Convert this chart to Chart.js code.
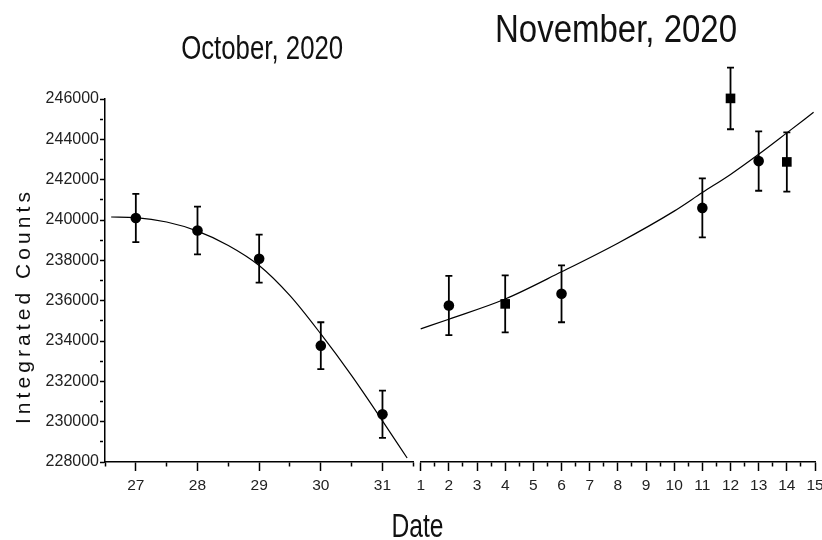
<!DOCTYPE html>
<html><head><meta charset="utf-8">
<script src="https://cdn.jsdelivr.net/npm/chart.js@4.4.0/dist/chart.umd.min.js"></script>
<style>
html,body{margin:0;padding:0;background:#fff;}
#wrap{position:relative;width:822px;height:540px;overflow:hidden;}
canvas{position:absolute;left:0;top:0;}
</style></head><body>
<div id="wrap"><canvas id="oct" width="822" height="540"></canvas><canvas id="nov" width="822" height="540"></canvas></div>
<script>
// ---- data ----
const octDays = [27, 28, 29, 30, 31];
const octCounts = [240100, 239480, 238080, 233770, 230370];
const octErrors = [1200, 1180, 1190, 1160, 1170];
const octFitDays = [26.6, 27, 27.5, 28, 28.5, 29, 29.5, 30, 30.5, 31, 31.4];
const octFitCounts = [240150, 240120, 239900, 239450, 238740, 237745, 236250, 234350, 232280, 230040, 228200];

const novDays = [2, 4, 6, 11, 12, 13, 14];
const novCounts = [235760, 235840, 236340, 240600, 246030, 242920, 242880];
const novErrors = [1470, 1410, 1410, 1460, 1530, 1470, 1470];
const novMarkers = ['circle', 'rect', 'circle', 'circle', 'rect', 'circle', 'rect'];
const novFitDays = [1, 2, 4, 6, 8, 10, 11, 12, 13, 14, 14.95];
const novFitCounts = [234600, 235080, 236080, 237430, 238850, 240440, 241360, 242260, 243260, 244320, 245340];

const yMin = 228000, yMax = 246000, yStep = 1000;
const octMin = 26.5, octMax = 31.5;
const novMin = 1, novMax = 15;

const octTitle = 'October, 2020';
const novTitle = 'November, 2020';
const xTitle = 'Date';
const yTitle = 'Integrated Counts';

// ---- helpers ----
const pts = (xs, ys) => xs.map((x, i) => ({x, y: ys[i]}));
const FONT = '"Liberation Sans", Arial, sans-serif';
const NARROW = '"Liberation Sans Narrow", "Liberation Sans", Arial, sans-serif';

function drawScaledText(ctx, text, cx, baseline, size, targetW) {
  ctx.save();
  ctx.font = size + 'px ' + NARROW;
  const w = ctx.measureText(text).width;
  ctx.translate(cx, baseline);
  ctx.scale(targetW / w, 1);
  ctx.textAlign = 'center';
  ctx.textBaseline = 'alphabetic';
  ctx.fillStyle = '#111';
  ctx.fillText(text, 0, 0);
  ctx.restore();
}

const errorBars = {
  id: 'errorBars',
  afterDatasetsDraw(chart) {
    const ctx = chart.ctx;
    chart.data.datasets.forEach((ds) => {
      if (!ds.errors) return;
      const xs = chart.scales.x, ys = chart.scales.y;
      ctx.save();
      ctx.strokeStyle = '#000';
      ctx.lineWidth = 1.8;
      ds.data.forEach((p, i) => {
        const e = ds.errors[i];
        const px = xs.getPixelForValue(p.x);
        const top = ys.getPixelForValue(p.y + e);
        const bot = ys.getPixelForValue(p.y - e);
        ctx.beginPath();
        ctx.moveTo(px, top); ctx.lineTo(px, bot);
        ctx.moveTo(px - 3.5, top); ctx.lineTo(px + 3.5, top);
        ctx.moveTo(px - 3.5, bot); ctx.lineTo(px + 3.5, bot);
        ctx.stroke();
      });
      ctx.restore();
    });
  }
};

function xScale(min, max) {
  return {
    type: 'linear', position: 'bottom', min, max,
    afterFit: s => { s.height = 78; s.paddingLeft = 0; s.paddingRight = 0; },
    border: {display: true, color: '#000', width: 1.5},
    grid: {
      display: true, drawOnChartArea: false, drawTicks: true,
      tickLength: 9, tickWidth: 1.5, tickColor: '#000',
      tickBorderDash: c => (c.tick && Number.isInteger(c.tick.value)) ? [] : [4, 60]
    },
    ticks: {
      stepSize: 0.5, autoSkip: false, maxRotation: 0, minRotation: 0, padding: 5,
      color: '#222', font: {family: FONT, size: 15.5},
      callback: v => Number.isInteger(v) ? String(v) : ''
    }
  };
}

function yScale(show) {
  return {
    type: 'linear', min: yMin, max: yMax, display: show,
    afterFit: s => { s.width = show ? 105 : 0; s.paddingTop = 0; s.paddingBottom = 0; },
    border: {display: true, color: '#000', width: 1.5},
    grid: {
      display: true, drawOnChartArea: false, drawTicks: true,
      tickLength: 5, tickWidth: 1.5, tickColor: '#000',
      tickBorderDash: c => (c.tick && c.tick.value % 2000 === 0) ? [] : [3, 60]
    },
    ticks: {
      stepSize: yStep, autoSkip: false, padding: 1,
      color: '#222', font: {family: FONT, size: 16},
      callback: v => (v % 2000 === 0) ? String(v) : ''
    }
  };
}

const common = {
  responsive: false, animation: false,
  plugins: {legend: {display: false}, tooltip: {enabled: false}, title: {display: false}}
};

const octTexts = {
  id: 'octTexts',
  afterDraw(chart) {
    const ctx = chart.ctx;
    const a = chart.chartArea;
    drawScaledText(ctx, octTitle, (a.left + a.right) / 2 + 3, 59, 33, 162);
    drawScaledText(ctx, xTitle, 417.5, 537, 34, 52);
    // y title, letter spaced
    ctx.save();
    ctx.font = '21px ' + FONT;
    const w0 = ctx.measureText(yTitle).width;
    const ls = (232 - w0) / (yTitle.length - 1);
    ctx.letterSpacing = ls + 'px';
    ctx.translate(30, 304 + ls / 2);
    ctx.rotate(-Math.PI / 2);
    ctx.textAlign = 'center';
    ctx.textBaseline = 'alphabetic';
    ctx.fillStyle = '#111';
    ctx.fillText(yTitle, 0, 0);
    ctx.restore();
  }
};

const novTexts = {
  id: 'novTexts',
  afterDraw(chart) {
    drawScaledText(chart.ctx, novTitle, 616, 42, 38, 242);
  }
};

new Chart(document.getElementById('oct'), {
  type: 'scatter',
  data: {
    datasets: [
      {data: pts(octFitDays, octFitCounts), showLine: true, pointRadius: 0, borderColor: '#000',
       borderWidth: 1.2, cubicInterpolationMode: 'monotone', clip: false},
      {data: pts(octDays, octCounts), errors: octErrors, showLine: false, pointStyle: 'circle',
       pointRadius: 5.3, backgroundColor: '#000', borderColor: '#000', borderWidth: 0, clip: false}
    ]
  },
  options: Object.assign({}, common, {
    layout: {padding: {top: 99, right: 408.7, bottom: 0, left: 0}},
    scales: {x: xScale(octMin, octMax), y: yScale(true)}
  }),
  plugins: [errorBars, octTexts]
});

new Chart(document.getElementById('nov'), {
  type: 'scatter',
  data: {
    datasets: [
      {data: pts(novFitDays, novFitCounts), showLine: true, pointRadius: 0, borderColor: '#000',
       borderWidth: 1.2, cubicInterpolationMode: 'monotone', clip: false},
      {data: pts(novDays, novCounts), errors: novErrors, showLine: false, pointStyle: novMarkers,
       pointRadius: novMarkers.map(m => m === 'rect' ? 6.8 : 5.3), backgroundColor: '#000',
       borderColor: '#000', borderWidth: 0, clip: false}
    ]
  },
  options: Object.assign({}, common, {
    layout: {padding: {top: 99, right: 7, bottom: 0, left: 420.7}},
    scales: {x: xScale(novMin, novMax), y: yScale(false)}
  }),
  plugins: [errorBars, novTexts]
});
</script>
</body></html>
